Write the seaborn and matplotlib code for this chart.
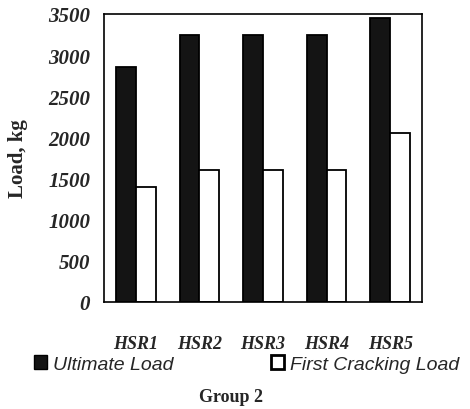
import seaborn as sns
import matplotlib.pyplot as plt
import pandas as pd

specimens = ["HSR1", "HSR2", "HSR3", "HSR4", "HSR5"]
ultimate_load = [2850, 3250, 3250, 3250, 3450]
first_cracking_load = [1400, 1600, 1600, 1600, 2050]
series_names = ["Ultimate Load", "First Cracking Load"]

df = pd.DataFrame({
    "Specimen": specimens * 2,
    "Series": [series_names[0]] * len(specimens) + [series_names[1]] * len(specimens),
    "Load": ultimate_load + first_cracking_load,
})

sns.set_style("white")
plt.rcParams["font.family"] = ["Liberation Serif", "DejaVu Serif"]

fig = plt.figure(figsize=(4.7, 4.1), dpi=100)
ax = fig.add_axes([104 / 470, 1 - 303 / 410, 318 / 470, 288 / 410])

sns.barplot(data=df, x="Specimen", y="Load", hue="Series",
            palette=["#141414", "white"], edgecolor="black", linewidth=1.3,
            width=0.62, ax=ax, legend=False)

ax.set_ylim(0, 3500)
ax.set_xlim(-0.5, 4.5)
ax.set_yticks(range(0, 3501, 500))
ax.tick_params(length=0)
ax.tick_params(axis="y", pad=10)
ax.tick_params(axis="x", pad=24)
for lbl in ax.get_yticklabels():
    lbl.set_fontsize(15)
    lbl.set_fontweight("bold")
    lbl.set_fontstyle("italic")
for lbl in ax.get_xticklabels():
    lbl.set_fontsize(13)
    lbl.set_fontweight("bold")
    lbl.set_fontstyle("italic")

for s in ax.spines.values():
    s.set_color("black")
    s.set_linewidth(1.2)

ax.set_ylabel("Load, kg", fontsize=15, fontweight="bold")
ax.yaxis.set_label_coords(-0.238, 0.5)
ax.set_xlabel("Group 2", fontsize=13, fontweight="bold")
ax.xaxis.set_label_coords(0.40, -0.3)

handles = [plt.Rectangle((0, 0), 1, 1, facecolor="#141414", edgecolor="black"),
           plt.Rectangle((0, 0), 1, 1, facecolor="white", edgecolor="black", linewidth=2)]
fig.legend(handles, series_names, loc="center left", bbox_to_anchor=(16 / 470, 1 - 365 / 410),
           ncol=2, frameon=False, handlelength=0.7, handleheight=0.7, handletextpad=0.3,
           columnspacing=5.0, prop={"family": "Liberation Sans", "style": "italic", "size": 14})

fig.savefig("out.png", dpi=100)
plt.close()
